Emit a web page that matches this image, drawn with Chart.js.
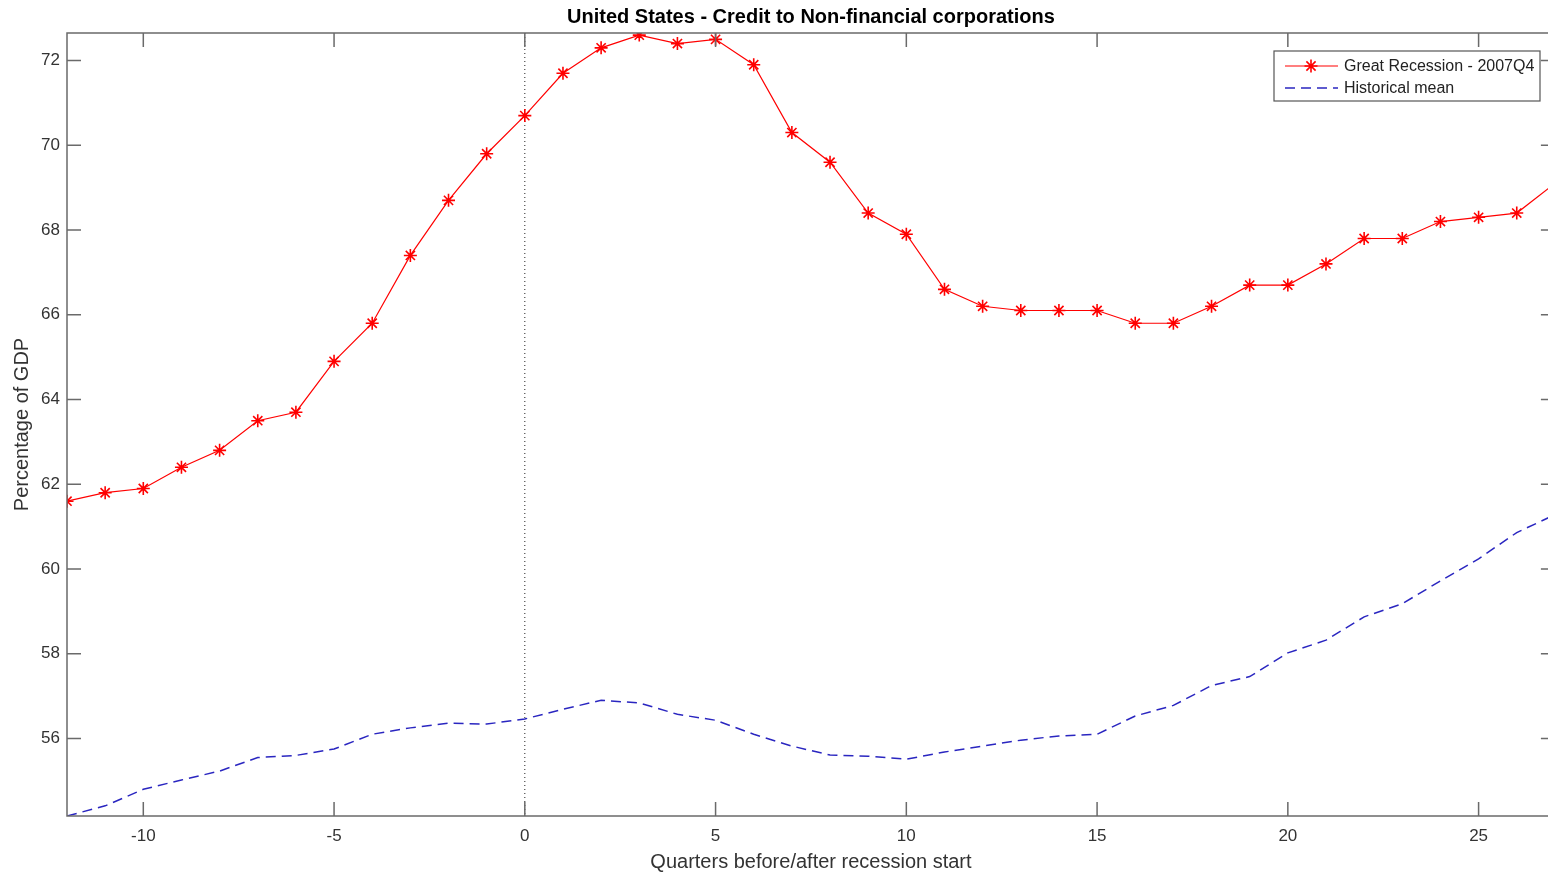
<!DOCTYPE html>
<html>
<head>
<meta charset="utf-8">
<script src="https://cdn.jsdelivr.net/npm/chart.js@4.4.1/dist/chart.umd.min.js"></script>
<style>
  html, body { margin: 0; padding: 0; background: #fff; overflow: hidden; }
  #wrap { position: relative; width: 1563px; height: 875px; }
</style>
</head>
<body>
<div id="wrap"><canvas id="CreditChart"></canvas></div>
<script>
const chartTitle = "United States - Credit to Non-financial corporations";
const xTitle = "Quarters before/after recession start";
const yTitle = "Percentage of GDP";

const quarters = [-12, -11, -10, -9, -8, -7, -6, -5, -4, -3, -2, -1, 0, 1, 2, 3, 4, 5, 6, 7,
  8, 9, 10, 11, 12, 13, 14, 15, 16, 17, 18, 19, 20, 21, 22, 23, 24, 25, 26, 27];

const greatRecession = [61.6, 61.8, 61.9, 62.4, 62.8, 63.5, 63.7, 64.9, 65.8, 67.4,
  68.7, 69.8, 70.7, 71.7, 72.3, 72.6, 72.4, 72.5, 71.9, 70.3,
  69.6, 68.4, 67.9, 66.6, 66.2, 66.1, 66.1, 66.1, 65.8, 65.8,
  66.2, 66.7, 66.7, 67.2, 67.8, 67.8, 68.2, 68.3, 68.4, 69.1];

const historicalMean = [54.17, 54.41, 54.8, 55.02, 55.23, 55.55, 55.6, 55.75, 56.1, 56.25,
  56.36, 56.34, 56.46, 56.69, 56.9, 56.84, 56.57, 56.43, 56.1, 55.82,
  55.61, 55.58, 55.51, 55.68, 55.82, 55.96, 56.06, 56.1, 56.53, 56.78,
  57.25, 57.46, 58.02, 58.32, 58.87, 59.18, 59.72, 60.24, 60.86, 61.28];

const xTicks = [-10, -5, 0, 5, 10, 15, 20, 25];
const yTicks = [56, 58, 60, 62, 64, 66, 68, 70, 72];
const recessionStart = 0;

Chart.defaults.font.family = "'Liberation Sans', Arial, sans-serif";
Chart.defaults.color = "#333";

const toPoints = (vals) => quarters.map((q, i) => ({ x: q, y: vals[i] }));

// matlab style: box, inward ticks, dotted start line, boxed legend, title over plot
const matlabAxes = {
  id: "matlabAxes",
  beforeDatasetsDraw(chart) {
    const { ctx, chartArea: a, scales: { x } } = chart;
    const px = x.getPixelForValue(recessionStart);
    ctx.save();
    ctx.strokeStyle = "#222";
    ctx.lineWidth = 1;
    ctx.setLineDash([1, 3]);
    ctx.beginPath();
    ctx.moveTo(px, a.top);
    ctx.lineTo(px, a.bottom);
    ctx.stroke();
    ctx.restore();
  },
  afterDraw(chart) {
    const { ctx, chartArea: a, scales: { x, y } } = chart;
    ctx.save();
    ctx.strokeStyle = "#6a6a6a";
    ctx.lineWidth = 1.5;
    ctx.strokeRect(a.left, a.top, a.right - a.left, a.bottom - a.top);
    ctx.beginPath();
    x.ticks.forEach(t => {
      const px = x.getPixelForValue(t.value);
      ctx.moveTo(px, a.bottom); ctx.lineTo(px, a.bottom - 14);
      ctx.moveTo(px, a.top); ctx.lineTo(px, a.top + 14);
    });
    y.ticks.forEach(t => {
      const py = y.getPixelForValue(t.value);
      ctx.moveTo(a.left, py); ctx.lineTo(a.left + 14, py);
      ctx.moveTo(a.right, py); ctx.lineTo(a.right - 14, py);
    });
    ctx.stroke();

    // legend
    const lx = 1274, ly = 51, lw = 266, lh = 50;
    ctx.fillStyle = "#fff";
    ctx.fillRect(lx, ly, lw, lh);
    ctx.strokeStyle = "#555";
    ctx.lineWidth = 1.2;
    ctx.strokeRect(lx, ly, lw, lh);
    ctx.font = "16px 'Liberation Sans', Arial, sans-serif";
    ctx.textBaseline = "middle";
    ctx.textAlign = "left";
    chart.data.datasets.forEach((ds, i) => {
      const ry = ly + 15 + i * 22;
      ctx.strokeStyle = ds.borderColor;
      ctx.lineWidth = ds.borderWidth;
      ctx.setLineDash(ds.borderDash || []);
      ctx.beginPath();
      ctx.moveTo(lx + 11, ry);
      ctx.lineTo(lx + 64, ry);
      ctx.stroke();
      ctx.setLineDash([]);
      if (ds.pointRadius > 0) {
        ctx.strokeStyle = ds.pointBorderColor;
        ctx.lineWidth = ds.pointBorderWidth;
        Chart.helpers.drawPoint(ctx, { pointStyle: ds.pointStyle, radius: ds.pointRadius, rotation: 0, borderWidth: ds.pointBorderWidth }, lx + 37, ry);
      }
      ctx.fillStyle = "#222";
      ctx.fillText(ds.label, lx + 70, ry + 1);
    });

    // title
    ctx.fillStyle = "#000";
    ctx.font = "bold 20px 'Liberation Sans', Arial, sans-serif";
    ctx.textAlign = "center";
    ctx.fillText(chartTitle, (a.left + a.right) / 2, 17);
    ctx.restore();
  }
};

new Chart(document.getElementById("CreditChart"), {
  type: "line",
  data: {
    datasets: [
      {
        label: "Great Recession - 2007Q4",
        data: toPoints(greatRecession),
        borderColor: "#ff0000",
        borderWidth: 1.2,
        pointStyle: "star",
        pointRadius: 6.5,
        pointBorderColor: "#ff0000",
        pointBorderWidth: 1.6,
        pointBackgroundColor: "#ff0000",
        tension: 0,
      },
      {
        label: "Historical mean",
        data: toPoints(historicalMean),
        borderColor: "#2a26c0",
        borderWidth: 1.5,
        borderDash: [10, 6],
        pointRadius: 0,
        tension: 0,
      },
    ],
  },
  options: {
    responsive: true,
    maintainAspectRatio: false,
    animation: false,
    layout: { padding: { top: 33, right: 5, left: 0, bottom: 0 } },
    plugins: {
      legend: { display: false },
      tooltip: { enabled: false },
    },
    scales: {
      x: {
        type: "linear",
        min: -12,
        max: 27,
        afterBuildTicks: (s) => { s.ticks = xTicks.map(v => ({ value: v })); },
        afterFit: (s) => { s.height = 59; },
        grid: { display: false, drawTicks: false },
        border: { display: false },
        ticks: { font: { size: 17 }, padding: 10, maxRotation: 0 },
        title: { display: true, text: xTitle, font: { size: 20 }, padding: { top: 0, bottom: 1 } },
      },
      y: {
        type: "linear",
        min: 54.17,
        max: 72.65,
        afterBuildTicks: (s) => { s.ticks = yTicks.map(v => ({ value: v })); },
        afterFit: (s) => { s.width = 67; },
        grid: { display: false, drawTicks: false },
        border: { display: false },
        ticks: { font: { size: 17 }, padding: 7 },
        title: { display: true, text: yTitle, font: { size: 20 }, padding: { top: 10, bottom: 0 } },
      },
    },
  },
  plugins: [matlabAxes],
});
</script>
</body>
</html>
